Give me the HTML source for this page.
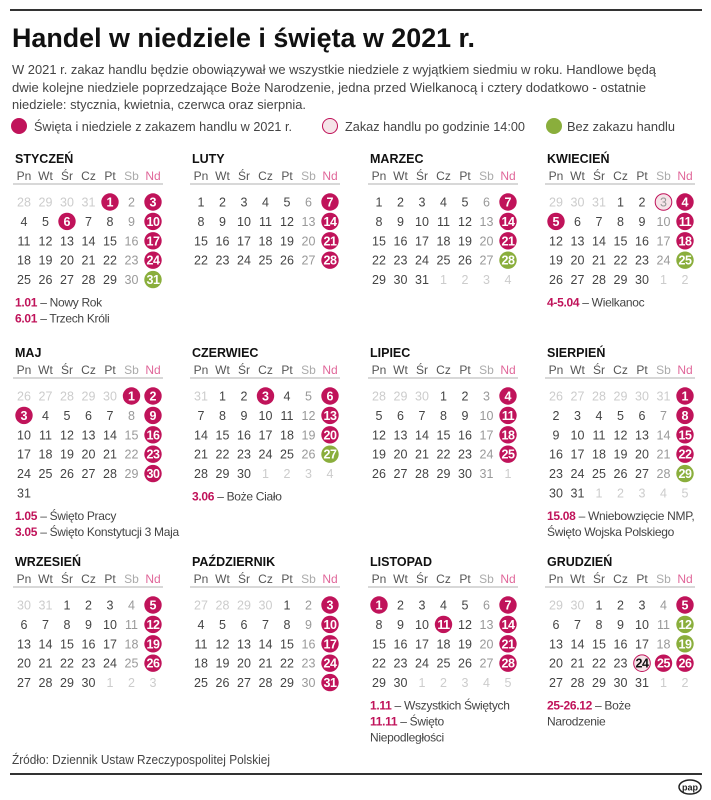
<!DOCTYPE html>
<html><head><meta charset="utf-8">
<style>
html,body{margin:0;padding:0;background:#fff;}
svg{display:block;font-family:"Liberation Sans",sans-serif;}
</style></head>
<body>
<svg id="cal" width="711" height="800" viewBox="0 0 711 800" xmlns="http://www.w3.org/2000/svg">
<line x1="10" y1="10" x2="702" y2="10" stroke="#333" stroke-width="2"/>
<text x="12" y="47" font-size="27" font-weight="bold" fill="#111" textLength="463" lengthAdjust="spacingAndGlyphs">Handel w niedziele i święta w 2021 r.</text>
<g font-size="13" fill="#444">
<text x="12" y="74" textLength="644" lengthAdjust="spacingAndGlyphs">W 2021 r. zakaz handlu będzie obowiązywał we wszystkie niedziele z wyjątkiem siedmiu w roku. Handlowe będą</text>
<text x="12" y="92" textLength="634" lengthAdjust="spacingAndGlyphs">dwie kolejne niedziele poprzedzające Boże Narodzenie, jedna przed Wielkanocą i cztery dodatkowo - ostatnie</text>
<text x="12" y="109" textLength="294" lengthAdjust="spacingAndGlyphs">niedziele: stycznia, kwietnia, czerwca oraz sierpnia.</text>
</g>
<g font-size="13" fill="#444">
<circle cx="19" cy="126" r="8" fill="#c0135a"/>
<text x="34" y="131" textLength="258" lengthAdjust="spacingAndGlyphs">Święta i niedziele z zakazem handlu w 2021 r.</text>
<circle cx="330" cy="126" r="7.5" fill="#f5e4e8" stroke="#c0135a" stroke-width="1"/>
<text x="345" y="131" textLength="180" lengthAdjust="spacingAndGlyphs">Zakaz handlu po godzinie 14:00</text>
<circle cx="554" cy="126" r="8" fill="#8aae3c"/>
<text x="567" y="131" textLength="108" lengthAdjust="spacingAndGlyphs">Bez zakazu handlu</text>
</g>
<g id="months"></g>
<text x="12" y="764" font-size="12.5" fill="#444" textLength="258" lengthAdjust="spacingAndGlyphs">Źródło: Dziennik Ustaw Rzeczypospolitej Polskiej</text>
<line x1="10" y1="774" x2="702" y2="774" stroke="#333" stroke-width="2"/>
<g>
<ellipse cx="690" cy="787" rx="11" ry="7" fill="#fff" stroke="#222" stroke-width="1.5"/>
<text x="690" y="790.5" font-size="9" font-weight="bold" text-anchor="middle" fill="#222">pap</text>
</g>
</svg>
<script>
const monthNames = ["STYCZEŃ","LUTY","MARZEC","KWIECIEŃ","MAJ","CZERWIEC","LIPIEC","SIERPIEŃ","WRZESIEŃ","PAŹDZIERNIK","LISTOPAD","GRUDZIEŃ"];
const dayHeaders = ["Pn","Wt","Śr","Cz","Pt","Sb","Nd"];
const redDays = [[1,3,6,10,17,24],[7,14,21,28],[7,14,21],[4,5,11,18],[1,2,3,9,16,23,30],[3,6,13,20],[4,11,18,25],[1,8,15,22],[5,12,19,26],[3,10,17,24,31],[1,7,11,14,21,28],[5,25,26]];
const greenDays = [[31],[],[28],[25],[],[27],[],[29],[],[],[],[12,19]];
const pinkDays = [[],[],[],[3],[],[],[],[],[],[],[],[24]];
const notes = [
 [["1.01"," – Nowy Rok"],["6.01"," – Trzech Króli"]],[],[],
 [["4-5.04"," – Wielkanoc"]],
 [["1.05"," – Święto Pracy"],["3.05"," – Święto Konstytucji 3 Maja"]],
 [["3.06"," – Boże Ciało"]],[],
 [["15.08"," – Wniebowzięcie NMP,"],[""," Święto Wojska Polskiego"]],
 [],[],
 [["1.11"," – Wszystkich Świętych"],["11.11"," – Święto"],[""," Niepodległości"]],
 [["25-26.12"," – Boże"],[""," Narodzenie"]]
];
const year = 2021;
const colX = [15,192,370,547];
const rowY = [158,352,561];
const NS = "http://www.w3.org/2000/svg";
const root = document.getElementById("months");
function mk(tag, attrs, parent){const e=document.createElementNS(NS,tag);for(const k in attrs)e.setAttribute(k,attrs[k]);parent.appendChild(e);return e;}
function dayX(bx,c){return bx+9+c*21.5;}
const rowH = 19.4;
for(let m=0;m<12;m++){
  const bx=colX[m%4], by=rowY[Math.floor(m/4)];
  const g=mk("g",{},root);
  
  
  const t=mk("text",{x:bx,y:by+5,"font-size":12.5,"font-weight":"bold",fill:"#111"},g);
  t.textContent=monthNames[m];
  
  
  dayHeaders.forEach((h,i)=>{
    const ht=mk("text",{x:dayX(bx,i),y:by+22,"font-size":12,"text-anchor":"middle",fill:i==6?"#e0679a":(i==5?"#aaa":"#555")},g);
    ht.textContent=h;
    
    
  });
  mk("line",{x1:bx-2,y1:by+26,x2:bx+148,y2:by+26,stroke:"#ccc","stroke-width":1.5},g);
  const first=(new Date(year,m,1).getDay()+6)%7;
  const dim=new Date(year,m+1,0).getDate();
  const prevDim=new Date(year,m,0).getDate();
  const cells=[];
  for(let i=0;i<first;i++)cells.push({d:prevDim-first+1+i,grey:true});
  for(let d=1;d<=dim;d++)cells.push({d:d,grey:false});
  if(m!==4){let nd=1;while(cells.length%7)cells.push({d:nd++,grey:true});}
  cells.forEach((c,i)=>{
    const col=i%7,row=Math.floor(i/7);
    const x=dayX(bx,col),y=by+44+row*rowH;
    let fill=c.grey?"#ccc":(col==5?"#999":"#444"),weight="normal";
    if(!c.grey){
      const isR=redDays[m].includes(c.d),isG=greenDays[m].includes(c.d),isP=pinkDays[m].includes(c.d);
      if(isR||isG){
        const ci=mk("circle",{cx:x,cy:y,r:8.7,fill:isR?"#c0135a":"#8aae3c"},g);
        
        
        fill="#fff";weight="bold";
      } else if(isP){
        const ci=mk("circle",{cx:x,cy:y,r:8.3,fill:"#f5e4e8",stroke:"#c0135a","stroke-width":1},g);
        
        
        fill=m==11?"#111":"#999";weight=m==11?"bold":"normal";
      }
    }
    const dt=mk("text",{x:x,y:y+4.5,"font-size":12.5,"text-anchor":"middle",fill:fill,"font-weight":weight},g);
    if(String(c.d).length>1 && weight==="bold") dt.setAttribute("letter-spacing","-0.5");
    dt.textContent=c.d;
    
    
  });
  const nrows=Math.ceil(cells.length/7);
  let ny=by+44+(nrows-1)*rowH+27;
  notes[m].forEach(n=>{
    const nt=mk("text",{x:bx,y:ny,"font-size":12,fill:"#444","letter-spacing":"-0.3"},g);
    const a=mk("tspan",{fill:"#c0135a","font-weight":"bold"},nt);a.textContent=n[0];
    const b=mk("tspan",{},nt);b.textContent=n[0]?n[1]:n[1].trim();
    
    
    ny+=16;
  });
}
</script>
</body></html>
